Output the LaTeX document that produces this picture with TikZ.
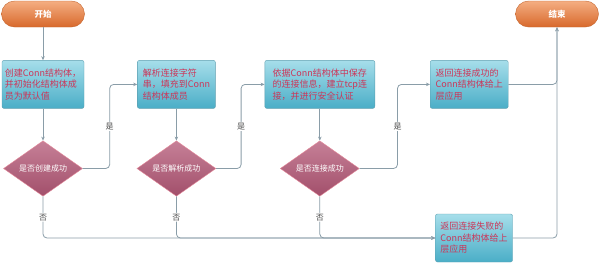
\documentclass[tikz,border=0pt]{standalone}
\usepackage{fontspec}
\setmainfont{Noto Sans CJK SC}
\usepackage{tikz}
\usetikzlibrary{shapes.geometric, arrows.meta, positioning}
\definecolor{linegray}{HTML}{8A9DA8}
\definecolor{termtop}{HTML}{F4AE82}
\definecolor{termbot}{HTML}{D8692C}
\definecolor{termline}{HTML}{C4652E}
\definecolor{proctop}{HTML}{A6DEEA}
\definecolor{procbot}{HTML}{4AAEC7}
\definecolor{procline}{HTML}{5E9FB0}
\definecolor{proctext}{HTML}{CC3558}
\definecolor{dectop}{HTML}{C68097}
\definecolor{decbot}{HTML}{A24F6B}
\definecolor{decline}{HTML}{E58A9A}
\tikzstyle{term} = [rectangle, rounded corners=13pt, draw=termline, top color=termtop, bottom color=termbot, text=white, font=\fontsize{8.5}{10}\selectfont\bfseries, minimum width=83pt, minimum height=26pt]
\tikzstyle{proc} = [rectangle, rounded corners=2pt, draw=procline, top color=proctop, bottom color=procbot, text=proctext, font=\fontsize{9}{11.5}\selectfont, align=left, minimum height=48pt, inner sep=2pt]
\tikzstyle{arrow} = [linegray, line width=0.8pt, rounded corners=4pt, -{Stealth[length=4pt,width=3.5pt]}]

\begin{document}
\begin{tikzpicture}[
        node distance=32pt,
        dec/.style={diamond, draw=decline, top color=dectop, bottom color=decbot, text=white, font=\fontsize{8}{9}\selectfont, inner sep=0pt, minimum width=79pt, minimum height=48pt},
        lbl/.style={fill=white, text=black!70, font=\fontsize{8}{9}\selectfont, inner sep=1pt}
        ]
        \useasboundingbox (0,0) rectangle (602pt,-263pt);

        \node[term] (start) at (43pt,-14pt) {开始};
        \node[term] (finish) at (557pt,-14pt) {结束};

        \node[proc, minimum width=82pt, below=33pt of start] (create) {创建Conn结构体，\\并初始化结构体成\\员为默认值};
        \node[proc, minimum width=78pt, right=53pt of create] (parse) {解析连接字符\\串，填充到Conn\\结构体成员};
        \node[proc, minimum width=110pt, right=49pt of parse] (connect) {依据Conn结构体中保存\\的连接信息，建立tcp连\\接，并进行安全认证};
        \node[proc, minimum width=78pt, right=55pt of connect] (ret_ok) {返回连接成功的\\Conn结构体给上\\层应用};
        \node[proc, minimum width=77pt] (ret_fail) at (474pt,-238pt) {返回连接失败的\\Conn结构体给上\\层应用};

        \node[dec, below=of create] (create_ok) {是否创建成功};
        \node[dec, below=of parse] (parse_ok) {是否解析成功};
        \node[dec, below=of connect] (connect_ok) {是否连接成功};

        \draw[arrow] (start) -- (create);
        \draw[arrow] (create) -- (create_ok);
        \draw[arrow] (parse) -- (parse_ok);
        \draw[arrow] (connect) -- (connect_ok);

        \draw[arrow] (create_ok.east) -- ++(27pt,0) |- node[lbl, pos=0.25] {是} (parse.west);
        \draw[arrow] (parse_ok.east) -- ++(25pt,0) |- node[lbl, pos=0.25] {是} (connect.west);
        \draw[arrow] (connect_ok.east) -- ++(38pt,0) |- node[lbl, pos=0.25] {是} (ret_ok.west);

        \draw[arrow] (create_ok.south) |- node[lbl, pos=0.25] {否} (ret_fail.west);
        \draw[arrow] (parse_ok.south) |- node[lbl, pos=0.25] {否} (ret_fail.west);
        \draw[arrow] (connect_ok.south) |- node[lbl, pos=0.25] {否} (ret_fail.west);

        \draw[arrow] (ret_ok.east) -| (finish.south);
        \draw[arrow] (ret_fail.east) -| (finish.south);

    \end{tikzpicture}
\end{document}
